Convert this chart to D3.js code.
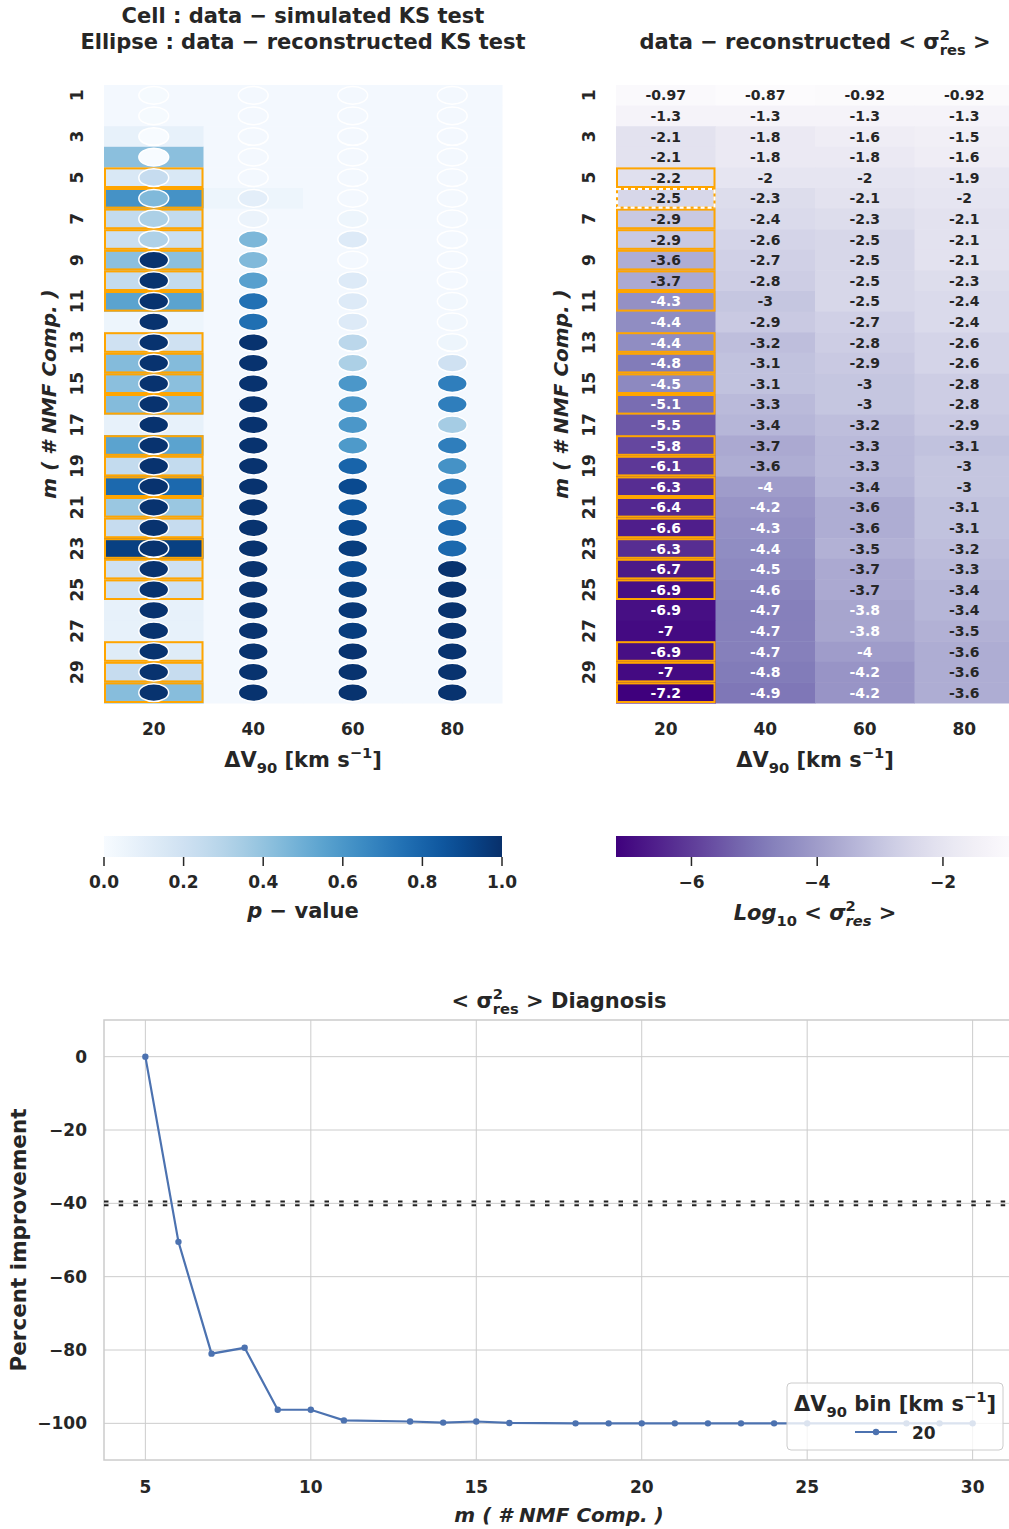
<!DOCTYPE html>
<html>
<head>
<meta charset="utf-8">
<script src="https://cdn.jsdelivr.net/npm/d3@7"></script>
<style>
  body { margin: 0; background: #fff; }
  text { font-family: "DejaVu Sans", sans-serif; font-weight: bold; fill: #262626; }
</style>
</head>
<body>
<div id="fig"></div>
<script>
// ---- data ----
var vBins = [20, 40, 60, 80];
var mComp = [1,2,3,4,5,6,7,8,9,10,11,12,13,14,15,16,17,18,19,20,21,22,23,24,25,26,27,28,29,30];
var mTicks = [1,3,5,7,9,11,13,15,17,19,21,23,25,27,29];

// cell colour: data - simulated KS p-value, rows m=1..30, cols 20,40,60,80
var cellP = [
  [0.02,0.02,0.02,0.02],[0.02,0.02,0.02,0.02],[0.08,0.02,0.02,0.02],[0.42,0.02,0.02,0.02],
  [0.15,0.02,0.02,0.02],[0.62,0.05,0.02,0.02],[0.25,0.02,0.02,0.02],[0.22,0.02,0.02,0.02],
  [0.42,0.02,0.02,0.02],[0.25,0.02,0.02,0.02],[0.55,0.02,0.02,0.02],[0.05,0.02,0.02,0.02],
  [0.20,0.02,0.02,0.02],[0.44,0.02,0.02,0.02],[0.42,0.02,0.02,0.02],[0.44,0.02,0.02,0.02],
  [0.08,0.02,0.02,0.02],[0.55,0.02,0.02,0.02],[0.25,0.02,0.02,0.02],[0.78,0.02,0.02,0.02],
  [0.38,0.02,0.02,0.02],[0.24,0.02,0.02,0.02],[0.94,0.02,0.02,0.02],[0.20,0.02,0.02,0.02],
  [0.20,0.02,0.02,0.02],[0.08,0.02,0.02,0.02],[0.08,0.02,0.02,0.02],[0.12,0.02,0.02,0.02],
  [0.24,0.02,0.02,0.02],[0.43,0.02,0.02,0.02]
];

// ellipse colour: data - reconstructed KS p-value
var ellipseP = [
  [0.01,0.02,0.02,0.02],[0.01,0.02,0.02,0.02],[0.00,0.02,0.02,0.02],[0.00,0.02,0.02,0.02],
  [0.24,0.02,0.02,0.02],[0.45,0.10,0.02,0.02],[0.33,0.06,0.05,0.02],[0.32,0.46,0.13,0.02],
  [0.99,0.45,0.02,0.02],[0.99,0.56,0.13,0.02],[0.99,0.75,0.13,0.03],[0.99,0.76,0.13,0.03],
  [0.99,0.99,0.28,0.05],[0.99,0.99,0.33,0.20],[0.99,0.99,0.60,0.70],[0.99,0.99,0.60,0.70],
  [0.99,0.99,0.60,0.35],[0.99,0.99,0.59,0.70],[0.99,0.99,0.80,0.62],[0.99,0.99,0.90,0.70],
  [0.99,0.99,0.86,0.70],[0.99,0.99,0.90,0.78],[0.99,0.99,0.95,0.78],[0.99,0.99,0.90,0.99],
  [0.99,0.99,0.94,0.99],[0.99,0.99,0.97,0.99],[0.99,0.99,0.95,0.99],[0.99,0.99,0.99,0.99],
  [0.99,0.99,0.99,0.99],[0.99,0.99,0.99,0.99]
];

// log10 <sigma^2_res>, data - reconstructed
var logSigma = [
  [-0.97,-0.87,-0.92,-0.92],[-1.3,-1.3,-1.3,-1.3],[-2.1,-1.8,-1.6,-1.5],[-2.1,-1.8,-1.8,-1.6],
  [-2.2,-2,-2,-1.9],[-2.5,-2.3,-2.1,-2],[-2.9,-2.4,-2.3,-2.1],[-2.9,-2.6,-2.5,-2.1],
  [-3.6,-2.7,-2.5,-2.1],[-3.7,-2.8,-2.5,-2.3],[-4.3,-3,-2.5,-2.4],[-4.4,-2.9,-2.7,-2.4],
  [-4.4,-3.2,-2.8,-2.6],[-4.8,-3.1,-2.9,-2.6],[-4.5,-3.1,-3,-2.8],[-5.1,-3.3,-3,-2.8],
  [-5.5,-3.4,-3.2,-2.9],[-5.8,-3.7,-3.3,-3.1],[-6.1,-3.6,-3.3,-3],[-6.3,-4,-3.4,-3],
  [-6.4,-4.2,-3.6,-3.1],[-6.6,-4.3,-3.6,-3.1],[-6.3,-4.4,-3.5,-3.2],[-6.7,-4.5,-3.7,-3.3],
  [-6.9,-4.6,-3.7,-3.4],[-6.9,-4.7,-3.8,-3.4],[-7,-4.7,-3.8,-3.5],[-6.9,-4.7,-4,-3.6],
  [-7,-4.8,-4.2,-3.6],[-7.2,-4.9,-4.2,-3.6]
];

// rows (m) passing in the 20 km/s bin, boxed in orange
var boxedRows = [5,6,7,8,9,10,11,13,14,15,16,18,19,20,21,22,23,24,25,28,29,30];
var dashedRow = 6;

var pTicks = [0, 0.2, 0.4, 0.6, 0.8, 1.0];
var sigmaTicks = [-6, -4, -2];

// diagnosis curve, bin 20 km/s
var diagM   = [5, 6, 7, 8, 9, 10, 11, 13, 14, 15, 16, 18, 19, 20, 21, 22, 23, 24, 25, 28, 29, 30];
var diagPct = [0, -50.5, -81, -79.4, -96.3, -96.3, -99.2, -99.5, -99.8, -99.5, -99.9, -100, -100, -100, -100, -100, -100, -100, -100, -100, -100, -100];
var refLines = [-39.5, -40.5];
var diagXTicks = [5, 10, 15, 20, 25, 30];
var diagYTicks = [0, -20, -40, -60, -80, -100];

// ---- layout ----
var W = 1009, H = 1529;
var hmTop = 85, hmBottom = 703, hmWidth = 398;
var leftX = 104, rightX = 616;
var dark = '#262626';

var svg = d3.select('#fig').append('svg')
    .attr('width', W).attr('height', H)
    .attr('viewBox', `0 0 ${W} ${H}`);

// text with sub/superscripts; parts: [string, kind, opts]
function rich(g, x, y, parts, o) {
    var size = o.size;
    var t = g.append('text')
        .attr('x', x).attr('y', y)
        .attr('text-anchor', o.anchor || 'middle')
        .style('font-size', size + 'px');
    if (o.italic) t.style('font-style', 'italic');
    if (o.rotate) t.attr('transform', `rotate(${o.rotate},${x},${y})`);
    var shift = 0, prev = null;
    parts.forEach(function(p) {
        var kind = p[1] || 'n', opt = p[2] || {};
        var target = kind === 'sup' ? -0.42 * size : kind === 'sub' ? 0.28 * size : 0;
        var ts = t.append('tspan').text(p[0]).attr('dy', target - shift);
        shift = target;
        if (kind !== 'n') ts.style('font-size', (0.7 * size) + 'px');
        if (opt.upright) ts.style('font-style', 'normal');
        if (opt.stack && prev) ts.attr('dx', -prev.node().getComputedTextLength());
        prev = ts;
    });
    return t;
}

var dvLabel = [['ΔV'], ['90', 'sub'], [' [km s'], ['−1', 'sup'], [']']];
var mLabel = [['m ( # NMF Comp. )']];

function luminance(c) {
    var rgb = d3.rgb(c);
    var lin = [rgb.r, rgb.g, rgb.b].map(function(v) {
        v = v / 255;
        return v <= 0.03928 ? v / 12.92 : Math.pow((v + 0.055) / 1.055, 2.4);
    });
    return 0.2126 * lin[0] + 0.7152 * lin[1] + 0.0722 * lin[2];
}

function heatAxes(x0, x, y) {
    var g = svg.append('g');
    g.selectAll('.ytick').data(mTicks).enter().append('text')
        .attr('text-anchor', 'middle')
        .style('font-size', '17px')
        .attr('transform', d => `translate(${x0 - 21},${y(d) + y.bandwidth() / 2}) rotate(-90)`)
        .text(d => d);
    g.selectAll('.xtick').data(vBins).enter().append('text')
        .attr('text-anchor', 'middle')
        .style('font-size', '17px')
        .attr('x', d => x(d) + x.bandwidth() / 2)
        .attr('y', 735)
        .text(d => d);
    rich(g, x0 + hmWidth / 2, 767, dvLabel, {size: 21});
    rich(g, x0 - 48, (hmTop + hmBottom) / 2, mLabel, {size: 20, italic: true, rotate: -90});
}

function boxes(g, x, y, dashed) {
    g.selectAll('.box').data(boxedRows).enter().append('rect')
        .attr('x', x(20) + 1).attr('y', d => y(d) + 1)
        .attr('width', x.bandwidth() - 2).attr('height', y.bandwidth() - 2)
        .attr('fill', 'none').attr('stroke', '#ffa500').attr('stroke-width', 2);
    if (dashed) {
        g.append('rect')
            .attr('x', x(20) + 1).attr('y', y(dashedRow) + 1)
            .attr('width', x.bandwidth() - 2).attr('height', y.bandwidth() - 2)
            .attr('fill', 'none').attr('stroke', '#fff').attr('stroke-width', 2.2)
            .attr('stroke-dasharray', '4 3');
    }
}

// flat cell list
var cells = [];
mComp.forEach(function(m, i) {
    vBins.forEach(function(v, j) {
        cells.push({m: m, v: v, cell: cellP[i][j], ell: ellipseP[i][j], sig: logSigma[i][j]});
    });
});

// ---- left heatmap: KS tests ----
(function() {
    var x = d3.scaleBand().domain(vBins).range([leftX, leftX + hmWidth]);
    var y = d3.scaleBand().domain(mComp).range([hmTop, hmBottom]);
    var col = d3.scaleSequential(d3.interpolateBlues).domain([0, 1]);
    var g = svg.append('g');
    g.selectAll('rect.cell').data(cells).enter().append('rect')
        .attr('x', d => x(d.v)).attr('y', d => y(d.m))
        .attr('width', x.bandwidth() + 0.5).attr('height', y.bandwidth() + 0.5)
        .attr('fill', d => col(d.cell));
    boxes(g, x, y, false);
    g.selectAll('ellipse').data(cells).enter().append('ellipse')
        .attr('cx', d => x(d.v) + x.bandwidth() / 2)
        .attr('cy', d => y(d.m) + y.bandwidth() / 2)
        .attr('rx', x.bandwidth() * 0.15).attr('ry', y.bandwidth() * 0.43)
        .attr('fill', d => col(d.ell))
        .attr('stroke', '#fff').attr('stroke-width', 1.5);
    heatAxes(leftX, x, y);

    rich(svg, leftX + hmWidth / 2, 23, [['Cell : data − simulated KS test']], {size: 21});
    rich(svg, leftX + hmWidth / 2, 49, [['Ellipse : data − reconstructed KS test']], {size: 21});

    // colorbar
    var cb = svg.append('g');
    var grad = svg.append('defs').append('linearGradient').attr('id', 'gBlues');
    d3.range(0, 1.0001, 0.05).forEach(function(t) {
        grad.append('stop').attr('offset', t).attr('stop-color', col(t));
    });
    cb.append('rect').attr('x', leftX).attr('y', 836).attr('width', hmWidth).attr('height', 21)
        .attr('fill', 'url(#gBlues)');
    var cx = d3.scaleLinear().domain([0, 1]).range([leftX, leftX + hmWidth]);
    cb.selectAll('line').data(pTicks).enter().append('line')
        .attr('x1', d => cx(d)).attr('x2', d => cx(d)).attr('y1', 857).attr('y2', 866)
        .attr('stroke', dark).attr('stroke-width', 1.5);
    cb.selectAll('text').data(pTicks).enter().append('text')
        .attr('text-anchor', 'middle').style('font-size', '17px')
        .attr('x', d => cx(d)).attr('y', 888).text(d3.format('.1f'));
    rich(svg, leftX + hmWidth / 2, 918, [['p', 'n'], [' − value', 'n', {upright: true}]], {size: 21, italic: true});
})();

// ---- right heatmap: log10 sigma^2 ----
(function() {
    var x = d3.scaleBand().domain(vBins).range([rightX, rightX + hmWidth]);
    var y = d3.scaleBand().domain(mComp).range([hmTop, hmBottom]);
    var ext = d3.extent(logSigma.flat());
    var col = d3.scaleSequential(t => d3.interpolatePurples(1 - t)).domain(ext);
    var g = svg.append('g');
    g.selectAll('rect.cell').data(cells).enter().append('rect')
        .attr('x', d => x(d.v)).attr('y', d => y(d.m))
        .attr('width', x.bandwidth() + 0.5).attr('height', y.bandwidth() + 0.5)
        .attr('fill', d => col(d.sig));
    g.selectAll('text.ann').data(cells).enter().append('text')
        .attr('text-anchor', 'middle').style('font-size', '14px')
        .attr('x', d => x(d.v) + x.bandwidth() / 2)
        .attr('y', d => y(d.m) + y.bandwidth() / 2 + 5)
        .style('fill', d => luminance(col(d.sig)) > 0.408 ? dark : '#fff')
        .text(d => d.sig);
    boxes(g, x, y, true);
    heatAxes(rightX, x, y);

    rich(svg, rightX + 199, 49, [['data − reconstructed < σ'], ['2', 'sup'], ['res', 'sub', {stack: true}], [' >']], {size: 21});

    var cb = svg.append('g');
    var grad = svg.append('defs').append('linearGradient').attr('id', 'gPurples');
    d3.range(0, 1.0001, 0.05).forEach(function(t) {
        grad.append('stop').attr('offset', t).attr('stop-color', col(ext[0] + t * (ext[1] - ext[0])));
    });
    cb.append('rect').attr('x', rightX).attr('y', 836).attr('width', hmWidth).attr('height', 21)
        .attr('fill', 'url(#gPurples)');
    var cx = d3.scaleLinear().domain(ext).range([rightX, rightX + hmWidth]);
    cb.selectAll('line').data(sigmaTicks).enter().append('line')
        .attr('x1', d => cx(d)).attr('x2', d => cx(d)).attr('y1', 857).attr('y2', 866)
        .attr('stroke', dark).attr('stroke-width', 1.5);
    cb.selectAll('text').data(sigmaTicks).enter().append('text')
        .attr('text-anchor', 'middle').style('font-size', '17px')
        .attr('x', d => cx(d)).attr('y', 888).text(d3.format('d'));
    rich(svg, rightX + 199, 920, [['Log'], ['10', 'sub', {upright: true}], [' < σ'], ['2', 'sup', {upright: true}], ['res', 'sub', {stack: true}], [' >']], {size: 21, italic: true});
})();

// ---- bottom: diagnosis line ----
(function() {
    var x = d3.scaleLinear().domain([3.75, 31.25]).range([104, 1014]);
    var y = d3.scaleLinear().domain([-110, 10]).range([1460, 1020]);
    var g = svg.append('g');
    var grid = '#cccccc';
    g.selectAll('line.gx').data(diagXTicks).enter().append('line')
        .attr('x1', d => x(d)).attr('x2', d => x(d)).attr('y1', 1020).attr('y2', 1460)
        .attr('stroke', grid).attr('stroke-width', 1);
    g.selectAll('line.gy').data(diagYTicks).enter().append('line')
        .attr('x1', 104).attr('x2', 1014).attr('y1', d => y(d)).attr('y2', d => y(d))
        .attr('stroke', grid).attr('stroke-width', 1);
    g.append('rect').attr('x', 104).attr('y', 1020).attr('width', 910).attr('height', 440)
        .attr('fill', 'none').attr('stroke', grid).attr('stroke-width', 1.5);

    g.selectAll('line.ref').data(refLines).enter().append('line')
        .attr('x1', 104).attr('x2', 1014).attr('y1', d => y(d)).attr('y2', d => y(d))
        .attr('stroke', '#222').attr('stroke-width', 2).attr('stroke-dasharray', '4.5 10.2');

    var pts = diagM.map((m, i) => [m, diagPct[i]]);
    var blue = '#4c72b0';
    g.append('path').datum(pts)
        .attr('d', d3.line().x(d => x(d[0])).y(d => y(d[1])))
        .attr('fill', 'none').attr('stroke', blue).attr('stroke-width', 2.2);
    g.selectAll('circle').data(pts).enter().append('circle')
        .attr('cx', d => x(d[0])).attr('cy', d => y(d[1])).attr('r', 3.2)
        .attr('fill', blue);

    g.selectAll('text.xt').data(diagXTicks).enter().append('text')
        .attr('text-anchor', 'middle').style('font-size', '17px')
        .attr('x', d => x(d)).attr('y', 1493).text(d => d);
    g.selectAll('text.yt').data(diagYTicks).enter().append('text')
        .attr('text-anchor', 'end').style('font-size', '17px')
        .attr('x', 87).attr('y', d => y(d) + 6).text(d3.format('d'));

    rich(svg, 559, 1008, [['< σ'], ['2', 'sup'], ['res', 'sub', {stack: true}], [' > Diagnosis']], {size: 21});
    rich(svg, 559, 1522, mLabel, {size: 20, italic: true});
    rich(svg, 26, 1240, [['Percent improvement']], {size: 21.5, rotate: -90});

    // legend
    var lg = svg.append('g');
    lg.append('rect').attr('x', 787).attr('y', 1383).attr('width', 216).attr('height', 67).attr('rx', 4)
        .attr('fill', '#fff').attr('fill-opacity', 0.8).attr('stroke', grid).attr('stroke-width', 1);
    rich(lg, 895, 1411, [['ΔV'], ['90', 'sub'], [' bin [km s'], ['−1', 'sup'], [']']], {size: 21});
    lg.append('line').attr('x1', 855).attr('x2', 897).attr('y1', 1432).attr('y2', 1432)
        .attr('stroke', blue).attr('stroke-width', 2.2);
    lg.append('circle').attr('cx', 876).attr('cy', 1432).attr('r', 3.2).attr('fill', blue);
    lg.append('text').style('font-size', '17px').attr('x', 912).attr('y', 1439).text(vBins[0]);
})();
</script>
</body>
</html>
